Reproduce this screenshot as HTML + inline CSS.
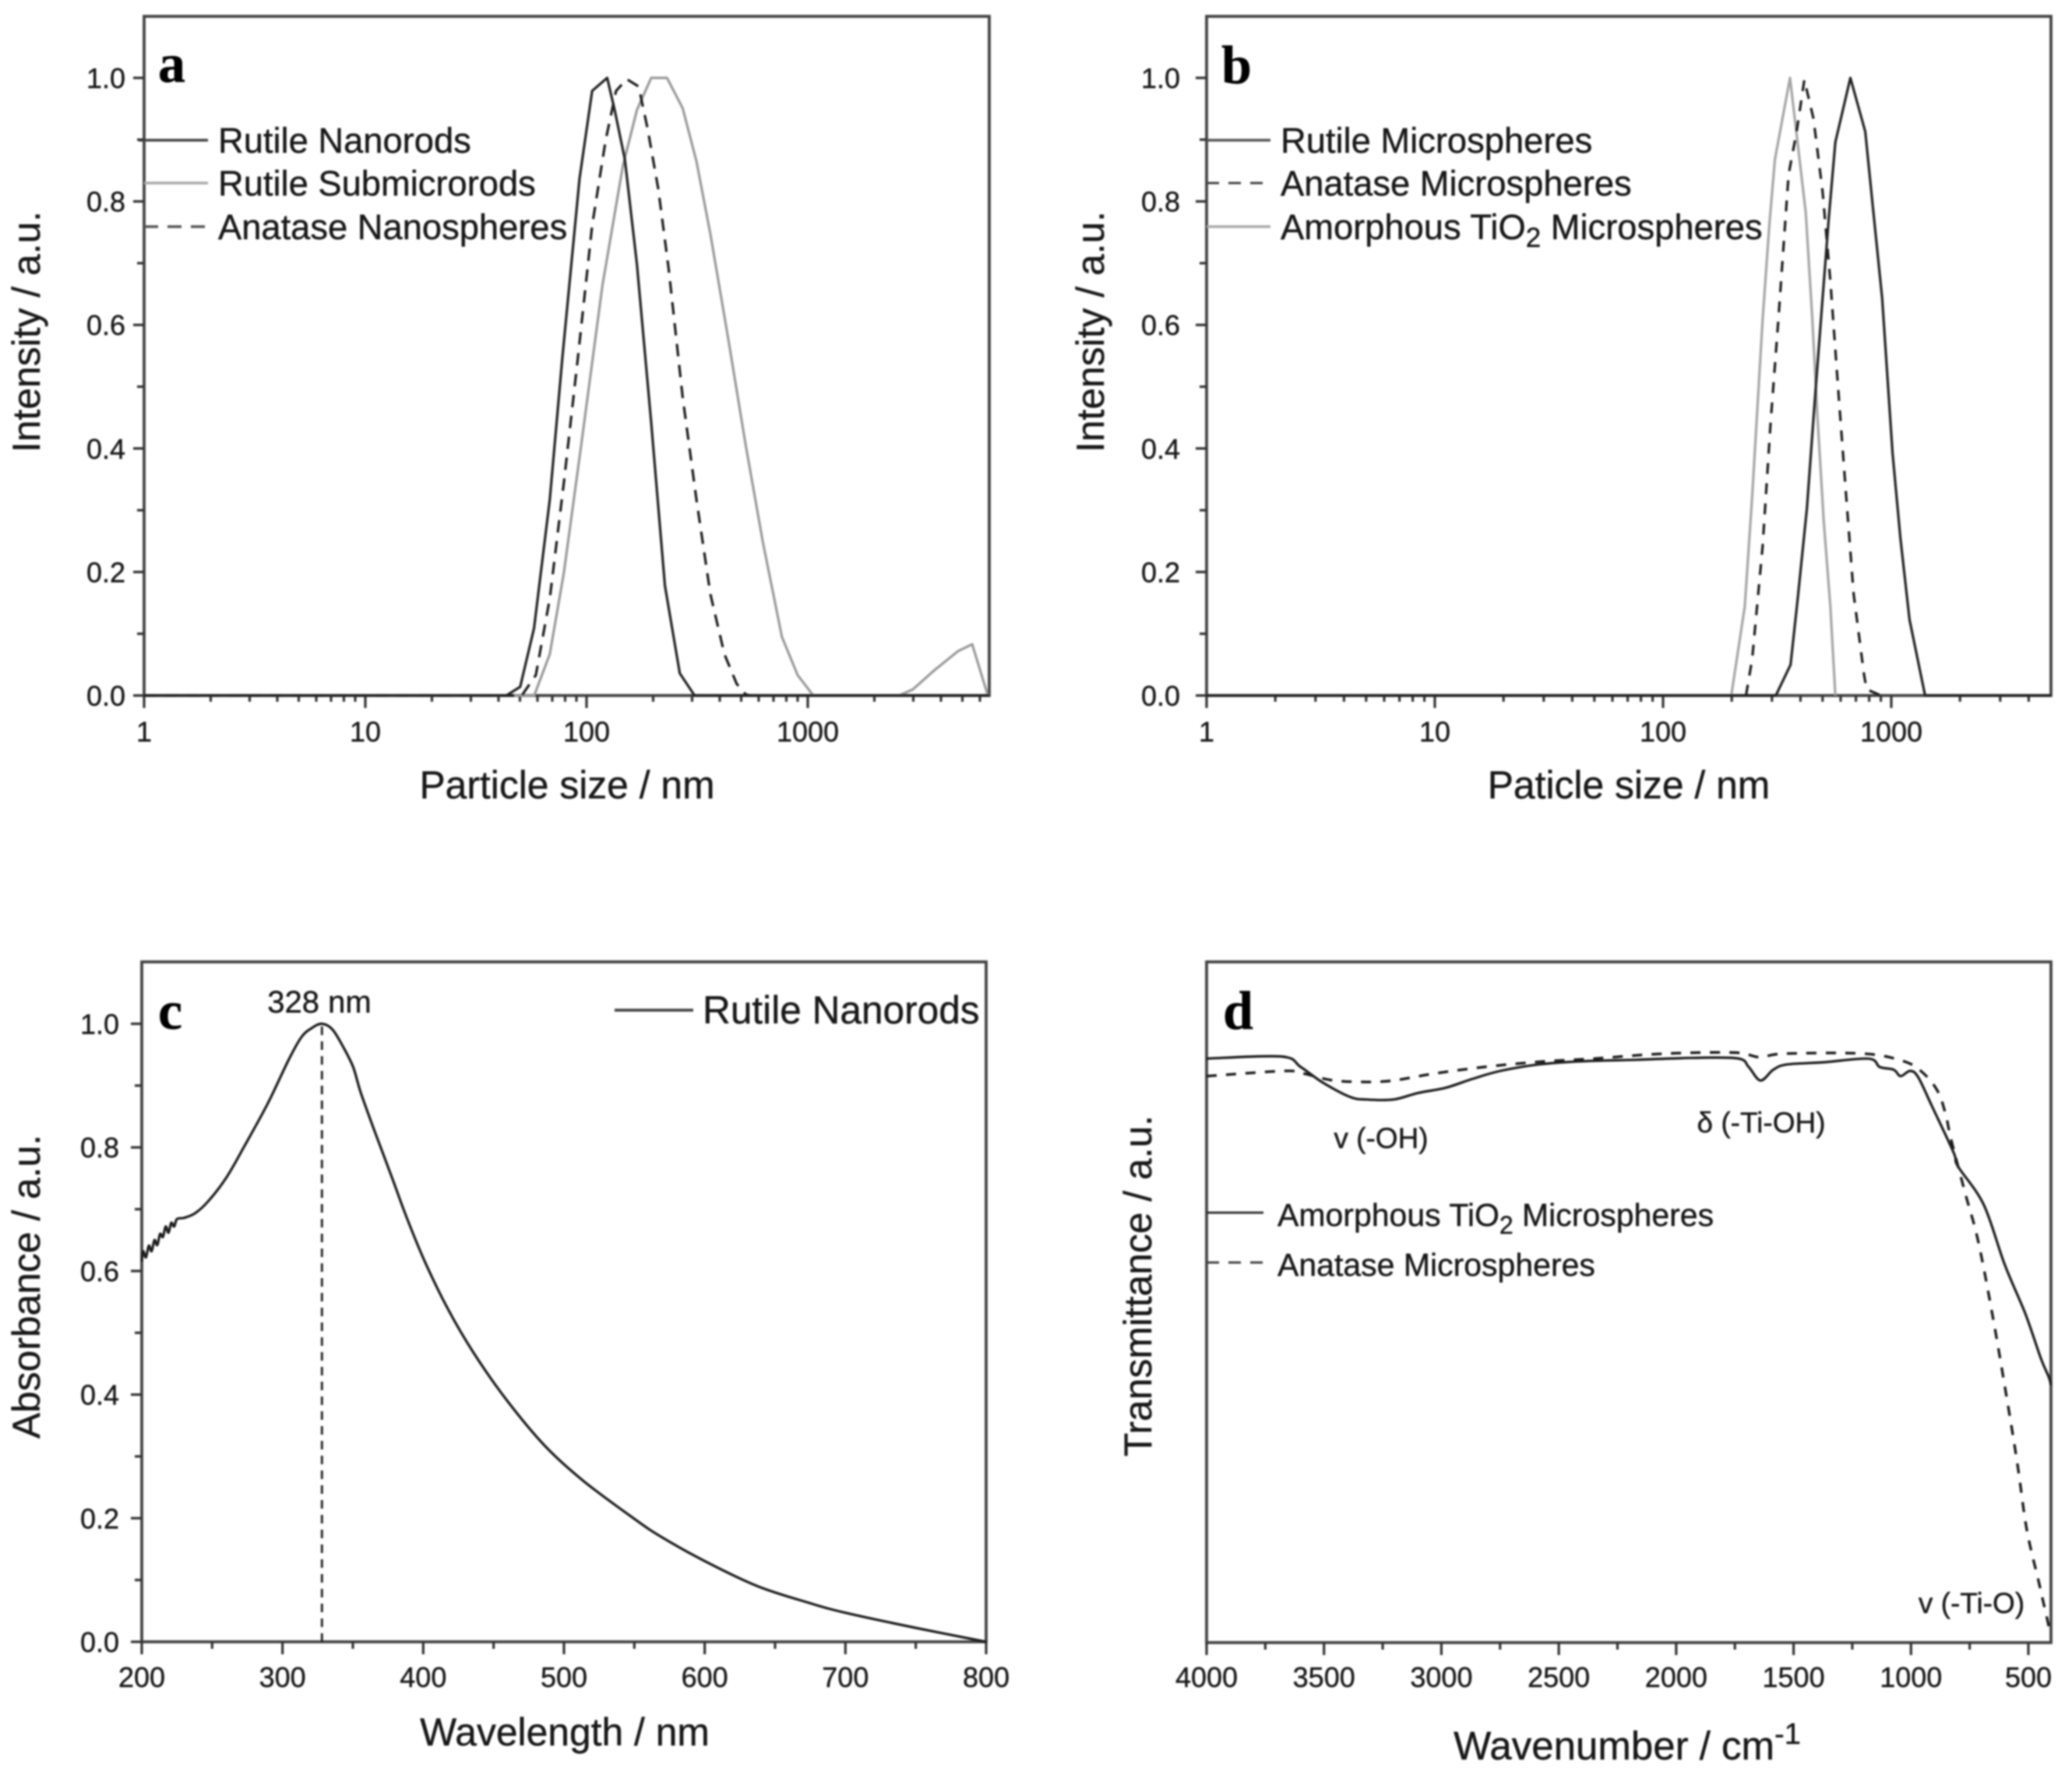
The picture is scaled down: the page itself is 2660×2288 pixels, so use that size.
<!DOCTYPE html>
<html lang="en">
<head>
<meta charset="utf-8">
<title>TiO2 particle size, absorbance and transmittance charts</title>
<style>
html,body{margin:0;padding:0;background:#fff;width:2660px;height:2288px;overflow:hidden}
svg{display:block;filter:blur(1px)}
text{font-family:"Liberation Sans",sans-serif;fill:#181818;stroke:#181818;stroke-width:.4}
.tick{font-size:36px}
.title{font-size:49.8px;text-anchor:middle}
.leg{font-size:45.3px}
.legd{font-size:41px}
.ann{font-size:37px}
.letter{font-family:"Liberation Serif",serif;font-weight:bold;font-size:70px;fill:#000;stroke:#000}
.frame{fill:none;stroke:#444;stroke-width:3.8}
</style>
</head>
<body>
<svg id="fig" xmlns="http://www.w3.org/2000/svg" width="2660" height="2288" viewBox="0 0 2660 2288">
  <rect width="2660" height="2288" fill="#fff"/>

  <g id="panel-a">
    <rect class="frame" x="185" y="21" width="1085" height="872"/>
    <text class="letter" x="203" y="105">a</text>
    <text class="title" x="728" y="1025">Particle size / nm</text>
    <text class="title" transform="translate(51 426) rotate(-90)">Intensity / a.u.</text>
    <line x1="178" y1="180" x2="267" y2="180" stroke="#444" stroke-width="3.5"/>
    <text class="leg" x="280" y="196">Rutile Nanorods</text>
    <line x1="185" y1="235" x2="267" y2="235" stroke="#aaa" stroke-width="3.5"/>
    <text class="leg" x="280" y="251">Rutile Submicrorods</text>
    <line x1="185" y1="291" x2="267" y2="291" stroke="#555" stroke-width="3.5" stroke-dasharray="18 12"/>
    <text class="leg" x="280" y="307">Anatase Nanospheres</text>
  </g>

  <g id="panel-b">
    <rect class="frame" x="1549" y="21" width="1084" height="872"/>
    <text class="letter" x="1568" y="107">b</text>
    <text class="title" x="2091" y="1025">Paticle size / nm</text>
    <text class="title" transform="translate(1417 426) rotate(-90)">Intensity / a.u.</text>
    <line x1="1549" y1="180" x2="1631" y2="180" stroke="#555" stroke-width="3.5"/>
    <text class="leg" x="1644" y="196">Rutile Microspheres</text>
    <line x1="1549" y1="235" x2="1631" y2="235" stroke="#444" stroke-width="3" stroke-dasharray="16 12"/>
    <text class="leg" x="1644" y="251">Anatase Microspheres</text>
    <line x1="1549" y1="291" x2="1631" y2="291" stroke="#aaa" stroke-width="3.5"/>
    <text class="leg" x="1644" y="307">Amorphous TiO<tspan font-size="35" dy="10">2</tspan><tspan dy="-10"> Microspheres</tspan></text>
  </g>

  <g id="panel-c">
    <rect class="frame" x="182" y="1235" width="1084" height="873"/>
    <text class="letter" x="203" y="1321">c</text>
    <text class="title" x="725" y="2241">Wavelength / nm</text>
    <text class="title" transform="translate(51 1652) rotate(-90)">Absorbance / a.u.</text>
    <text x="410" y="1300" text-anchor="middle" font-size="40">328 nm</text>
    <line x1="789" y1="1297" x2="890" y2="1297" stroke="#444" stroke-width="3.8"/>
    <text x="902" y="1314" font-size="49.6">Rutile Nanorods</text>
  </g>

  <g id="panel-d">
    <rect class="frame" x="1549" y="1235" width="1084" height="874"/>
    <text class="letter" x="1570" y="1321">d</text>
    <text x="2089" y="2259" font-size="51" text-anchor="middle">Wavenumber / cm<tspan font-size="38" dy="-20">-1</tspan></text>
    <text class="title" transform="translate(1478 1651) rotate(-90)">Transmittance / a.u.</text>
    <text class="ann" x="1773" y="1474" text-anchor="middle">v (-OH)</text>
    <text class="ann" x="2261" y="1454" text-anchor="middle">δ (-Ti-OH)</text>
    <text class="ann" x="2531" y="2071" text-anchor="middle">v (-Ti-O)</text>
    <line x1="1549" y1="1557" x2="1622" y2="1557" stroke="#333" stroke-width="3"/>
    <text class="legd" x="1640" y="1574">Amorphous TiO<tspan font-size="32" dy="10">2</tspan><tspan dy="-10"> Microspheres</tspan></text>
    <line x1="1549" y1="1621" x2="1622" y2="1621" stroke="#444" stroke-width="3" stroke-dasharray="16 12"/>
    <text class="legd" x="1640" y="1638">Anatase Microspheres</text>
  </g>
</svg>

<script>
// ---------- Panel a data ----------
const aNanorodsSize = [1,43.4,50.1,57.9,68.2,77.7,93,106,124,134,149,169,196,226,264,308,6600];
const aNanorodsIntensity = [0,0,.014,.109,.317,.546,.837,.979,1,.948,.868,.698,.442,.178,.036,0,0];
const aSubmicroSize = [1,58,68.2,79,94.7,118,146,169,196,231,272,314,363,436,523,627,764,900,1059,2582,2987,3709,4786,5537,6516];
const aSubmicroIntensity = [0,0,.067,.199,.407,.664,.858,.948,1,1,.951,.865,.747,.58,.407,.248,.095,.033,0,0,.01,.04,.072,.083,0];
const aNanospheresSize = [1,51,59,68.2,79,91.3,106,122,136,152,172,189,211,235,272,314,363,420,477,523,551];
const aNanospheresIntensity = [0,0,.033,.157,.345,.546,.761,.899,.979,.998,.986,.917,.82,.691,.483,.317,.164,.067,.019,.002,0];

// ---------- Panel b data ----------
const bRutileSize = [1,312,362,389,427,462,500,533,569,662,769,832,912,1013,1096,1202,1406,5000];
const bRutileIntensity = [0,0,.05,.157,.303,.476,.643,.775,.896,1,.913,.788,.643,.393,.255,.123,0,0];
const bAnataseSize = [231,246,273,296,320,355,385,416,456,500,541,585,632,684,760,780,901];
const bAnataseIntensity = [0,.06,.241,.442,.608,.844,.913,.997,.934,.816,.671,.497,.331,.164,.033,.01,0];
const bAmorphousSize = [199,228,246,273,292,309,360,422,450,474,506,541,569];
const bAmorphousIntensity = [0,.144,.324,.608,.761,.868,1,.782,.615,.456,.282,.144,0];

// ---------- Panel c data ----------
const cWavelength = [200,201,203,205,207,209,211,213,215,217,219,221,223,225,230,237.6,246.9,259.8,272.7,289.3,304,313.3,320.7,328,335.4,342.8,350.2,355.7,365,378,389,402,417.9,435.7,459,486.5,514,550,569,600.5,637.6,674.7,700,749.7,800];
const cAbsorbance = [.615,.632,.622,.641,.632,.65,.642,.66,.655,.672,.662,.678,.672,.684,.686,.693,.712,.75,.801,.87,.94,.978,.993,1,.991,.964,.93,.888,.829,.75,.682,.611,.537,.468,.392,.317,.26,.199,.17,.13,.09,.0626,.047,.0227,0];
const cPeakWavelength = [328,328];
const cPeakAbsorbance = [0,1];

// ---------- Panel d data ----------
const dAmorphousWavenumber = [4000,3681,3599,3505,3390,3320,3204,3099,2982,2865,2749,2586,2401,2168,1936,1737,1691,1641,1586,1528,1376,1180,1133,1074,1044,1004,969.5,911,818,800,690,601,513,447,413,404];
const dAmorphousTransmittance = [.858,.861,.8455,.8227,.8017,.7978,.7978,.8074,.815,.8284,.8398,.8493,.854,.8562,.8589,.8581,.8455,.8257,.8417,.8493,.8524,.8578,.8455,.8417,.8321,.8398,.8307,.7883,.7197,.6997,.6432,.5554,.4832,.4176,.39,.378];
const dAnataseWavenumber = [4000,3668,3588,3472,3356,3215,3029,2819,2586,2354,2122,1936,1737,1644,1539,1203,1040,958,888,853,829,768,712,646,590,546,507,457,441,424,412,406];
const dAnataseTransmittance = [.8322,.8398,.836,.8264,.8238,.8253,.836,.8455,.8532,.8578,.8638,.8665,.8665,.86,.8652,.8652,.855,.8398,.8112,.7769,.739,.659,.587,.468,.355,.261,.1663,.091,.0664,.041,.022,.012];

// ---------- Tick labels ----------
const intensityTicks = [0,.2,.4,.6,.8,1];
const intensityMinorTicks = [.1,.3,.5,.7,.9];
const logDecades = [1,10,100,1000];
const logMinorFactors = [2,3,4,5,6,7,8,9];
const wavelengthTicks = [200,300,400,500,600,700,800];
const wavelengthMinorTicks = [250,350,450,550,650,750];
const wavenumberTicks = [4000,3500,3000,2500,2000,1500,1000,500];
const wavenumberMinorTicks = [3750,3250,2750,2250,1750,1250,750];

const NS = 'http://www.w3.org/2000/svg';
function make(tag, attrs, parent){
  const n = document.createElementNS(NS, tag);
  for (const k in attrs) n.setAttribute(k, attrs[k]);
  parent.appendChild(n);
  return n;
}
function linearScale(d0, d1, r0, r1){ return v => r0 + (v - d0) * (r1 - r0) / (d1 - d0); }
function logScale(rOne, rPerDecade){ return v => rOne + Math.log10(v) * rPerDecade; }

function tickX(parent, sx, v, baseY, len){
  const t = make('line', {x1:sx(v), x2:sx(v), y1:baseY, y2:baseY + len, stroke:'#333', 'stroke-width':3.2}, parent);
  
  
}
function tickY(parent, sy, v, baseX, len){
  const t = make('line', {x1:baseX, x2:baseX - len, y1:sy(v), y2:sy(v), stroke:'#333', 'stroke-width':3.2}, parent);
  
  
}
function labelX(parent, sx, v, y){
  const t = make('text', {x:sx(v), y:y, 'text-anchor':'middle', class:'tick'}, parent);
  t.textContent = String(v);
  
  
}
function labelY(parent, sy, v, x){
  const t = make('text', {x:x, y:sy(v) + 13, 'text-anchor':'end', class:'tick'}, parent);
  t.textContent = v.toFixed(1);
  
  
}
function series(parent, sx, sy, xs, ys, stroke, width, dash, name, smooth){
  const px = xs.map(x => sx(x));
  const py = ys.map(y => sy(y));
  let d = 'M' + px[0].toFixed(1) + ' ' + py[0].toFixed(1);
  for (let i = 0; i < px.length - 1; i++) {
    if (smooth) {
      const a = Math.max(i - 1, 0), b = Math.min(i + 2, px.length - 1);
      const c1x = px[i] + (px[i + 1] - px[a]) / 6, c1y = py[i] + (py[i + 1] - py[a]) / 6;
      const c2x = px[i + 1] - (px[b] - px[i]) / 6, c2y = py[i + 1] - (py[b] - py[i]) / 6;
      d += 'C' + c1x.toFixed(1) + ' ' + c1y.toFixed(1) + ' ' + c2x.toFixed(1) + ' ' + c2y.toFixed(1) + ' ' + px[i + 1].toFixed(1) + ' ' + py[i + 1].toFixed(1);
    } else {
      d += 'L' + px[i + 1].toFixed(1) + ' ' + py[i + 1].toFixed(1);
    }
  }
  const attrs = {d:d, fill:'none', stroke:stroke, 'stroke-width':width, 'stroke-linejoin':'round'};
  if (dash) attrs['stroke-dasharray'] = dash;
  const p = make('path', attrs, parent);
  
  
}
function intensityAxis(parent, sy, baseX, labelRight){
  intensityTicks.forEach(v => { tickY(parent, sy, v, baseX, 14); labelY(parent, sy, v, labelRight); });
  intensityMinorTicks.forEach(v => tickY(parent, sy, v, baseX, 9));
}
function logAxis(parent, sx, baseY, maxV, labelBase){
  logDecades.forEach(d => {
    tickX(parent, sx, d, baseY, 16);
    labelX(parent, sx, d, labelBase);
    logMinorFactors.forEach(f => { if (d * f < maxV) tickX(parent, sx, d * f, baseY, 8); });
  });
}

// Panel a
(function(){
  const g = document.getElementById('panel-a');
  const sx = logScale(185, 284), sy = linearScale(0, 1, 893, 100);
  intensityAxis(g, sy, 185, 161);
  logAxis(g, sx, 893, 6600, 952);
  series(g, sx, sy, aSubmicroSize, aSubmicroIntensity, '#9a9a9a', 3.2, null, 'series-rutile-submicrorods', false);
  series(g, sx, sy, aNanospheresSize, aNanospheresIntensity, '#1c1c1c', 3.2, '16 11', 'series-anatase-nanospheres', false);
  series(g, sx, sy, aNanorodsSize, aNanorodsIntensity, '#222', 3.2, null, 'series-rutile-nanorods', false);
})();

// Panel b
(function(){
  const g = document.getElementById('panel-b');
  const sx = logScale(1549, 293), sy = linearScale(0, 1, 893, 100);
  intensityAxis(g, sy, 1549, 1515);
  logAxis(g, sx, 893, 5000, 952);
  series(g, sx, sy, bAmorphousSize, bAmorphousIntensity, '#a5a5a5', 3.2, null, 'series-amorphous-microspheres', false);
  series(g, sx, sy, bAnataseSize, bAnataseIntensity, '#1c1c1c', 3.2, '14 12', 'series-anatase-microspheres', false);
  series(g, sx, sy, bRutileSize, bRutileIntensity, '#222', 3.2, null, 'series-rutile-microspheres', false);
})();

// Panel c
(function(){
  const g = document.getElementById('panel-c');
  const sx = linearScale(200, 800, 182, 1266), sy = linearScale(0, 1, 2108, 1314.5);
  intensityAxis(g, sy, 182, 153);
  wavelengthTicks.forEach(v => { tickX(g, sx, v, 2108, 16); labelX(g, sx, v, 2166); });
  wavelengthMinorTicks.forEach(v => tickX(g, sx, v, 2108, 9));
  series(g, sx, sy, cPeakWavelength, cPeakAbsorbance, '#222', 2.8, '11 8', 'peak-marker-line', false);
  series(g, sx, sy, cWavelength, cAbsorbance, '#1c1c1c', 3.2, null, 'series-absorbance', true);
})();

// Panel d
(function(){
  const g = document.getElementById('panel-d');
  const sx = linearScale(4000, 500, 1549, 2604), sy = linearScale(0, 1, 2109, 1235);
  wavenumberTicks.forEach(v => { tickX(g, sx, v, 2109, 16); labelX(g, sx, v, 2166); });
  wavenumberMinorTicks.forEach(v => tickX(g, sx, v, 2109, 9));
  series(g, sx, sy, dAnataseWavenumber, dAnataseTransmittance, '#1c1c1c', 3.4, '13 12', 'series-anatase-microspheres-ir', true);
  series(g, sx, sy, dAmorphousWavenumber, dAmorphousTransmittance, '#1c1c1c', 3.2, null, 'series-amorphous-microspheres-ir', true);
})();
</script>
</body>
</html>
